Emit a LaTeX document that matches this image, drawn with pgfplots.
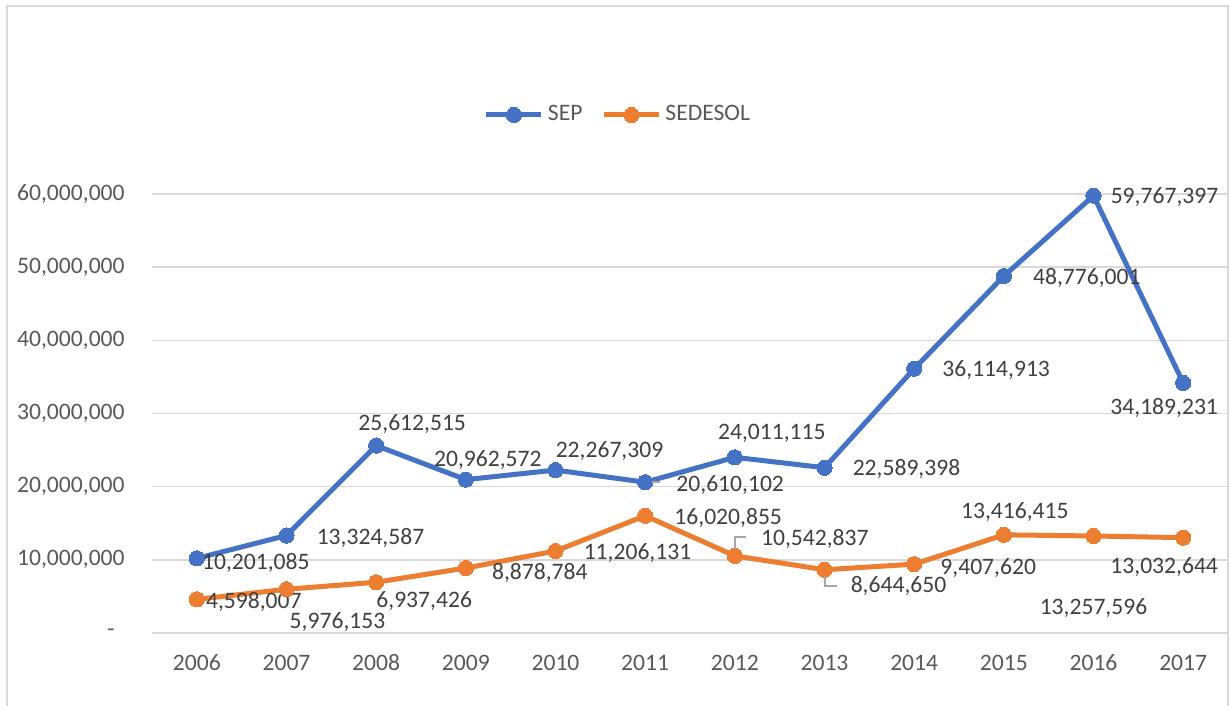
\documentclass[border=0pt]{standalone}
\usepackage{fontspec}
\setmainfont{Carlito}
\usepackage{pgfplots}
\usepackage{pgfplotstable}
\pgfplotsset{compat=1.18}
\definecolor{sepblue}{HTML}{4472C4}
\definecolor{sedorange}{HTML}{ED7D31}
\definecolor{gridgray}{HTML}{D9D9D9}
\definecolor{txtgray}{HTML}{595959}
\definecolor{lblgray}{HTML}{404040}
\definecolor{leadgray}{HTML}{A6A6A6}

\pgfplotstableread{
x y dx dy lab
0 10201085 29.5 -1.5 10,201,085
1 13324587 42 -0.5 13,324,587
2 25612515 18 11.5 25,612,515
3 20962572 11 10.5 20,962,572
4 22267309 27 10.5 22,267,309
5 20610102 42.5 -0.5 20,610,102
6 24011115 18.5 12.5 24,011,115
7 22589398 41 0 22,589,398
8 36114913 41 0 36,114,913
9 48776001 41.5 0 48,776,001
10 59767397 35.5 0 59,767,397
11 34189231 -9.5 -12 34,189,231
}\sepdata

\pgfplotstableread{
x y dx dy lab
0 4598007 28.5 -0.5 4,598,007
1 5976153 25.5 -15.5 5,976,153
2 6937426 24 -8.5 6,937,426
3 8878784 37 -1.5 8,878,784
4 11206131 41 -0.5 11,206,131
5 16020855 41.5 -0.5 16,020,855
6 10542837 40 9 10,542,837
7 8644650 37 -7.5 8,644,650
8 9407620 37 -1 9,407,620
9 13416415 5.5 12 13,416,415
10 13257596 0 -35.5 13,257,596
11 13032644 -9.5 -14 13,032,644
}\seddata

\begin{document}
\fontsize{11.8}{14}\selectfont
\begin{tikzpicture}
\path[use as bounding box] (-76pt,-36.5pt) rectangle (539.5pt,316.5pt);
\begin{axis}[
  at={(0pt,0pt)}, anchor=south west,
  scale only axis,
  width=538pt, height=219.5pt,
  xmin=-0.5, xmax=11.5,
  ymin=0, ymax=60000000,
  clip=false,
  xtick={0,1,2,3,4,5,6,7,8,9,10,11},
  xticklabels={2006,2007,2008,2009,2010,2011,2012,2013,2014,2015,2016,2017},
  ytick={0,10000000,20000000,30000000,40000000,50000000,60000000},
  yticklabels={{-\kern5pt},{10,000,000},{20,000,000},{30,000,000},{40,000,000},{50,000,000},{60,000,000}},
  scaled y ticks=false,
  ymajorgrids,
  major grid style={color=gridgray, line width=0.75pt},
  axis line style={draw=none},
  tick style={draw=none},
  ticklabel style={font=\fontsize{11.8}{14}\selectfont, color=txtgray},
  yticklabel style={anchor=east, inner sep=0pt, xshift=-13.5pt},
  xticklabel style={anchor=base, inner sep=0pt, yshift=-19pt},
  legend style={at={(0.434,1.18)}, anchor=center, draw=none, fill=none,
    legend columns=2, font=\fontsize{11.8}{14}\selectfont, text=txtgray,
    /tikz/every even column/.append style={column sep=7.5pt},
    cells={anchor=west}},
  legend image code/.code={\draw[mark repeat=2,mark phase=2,#1] plot coordinates {(0pt,0pt) (13.75pt,0pt) (27.5pt,0pt)};},
  nodes near coords,
  point meta=explicit symbolic,
  visualization depends on={\thisrow{dx} \as \dx},
  visualization depends on={\thisrow{dy} \as \dy},
  nodes near coords style={anchor=center, inner sep=0pt, text depth=0pt,
    xshift=\dx pt, yshift=\dy pt, color=lblgray, font=\fontsize{11.8}{14}\selectfont},
]
\addplot[color=sepblue, line width=2.5pt, mark=*, mark size=3.8pt,
  mark options={solid, fill=sepblue, draw=sepblue, line width=0pt}]
  table[x=x, y=y, meta=lab] {\sepdata};
\addlegendentry{SEP}
\addplot[color=sedorange, line width=2.5pt, mark=*, mark size=3.8pt,
  mark options={solid, fill=sedorange, draw=sedorange, line width=0pt}]
  table[x=x, y=y, meta=lab] {\seddata};
\addlegendentry{SEDESOL}
\end{axis}
% leader lines
\draw[color=leadgray, line width=0.75pt] (250pt,75.5pt) -- (254pt,75.5pt);
\draw[color=leadgray, line width=0.75pt] (291.5pt,42pt) -- (291.5pt,48pt) -- (297pt,48pt);
\draw[color=leadgray, line width=0.75pt] (336.5pt,28.5pt) -- (336.5pt,23.5pt) -- (342.5pt,23.5pt);
% chart frame
\draw[color=gridgray, line width=1pt] (-72.5pt,-40pt) -- (-72.5pt,313.5pt) -- (538pt,313.5pt) -- (538pt,-40pt);
\end{tikzpicture}
\end{document}
